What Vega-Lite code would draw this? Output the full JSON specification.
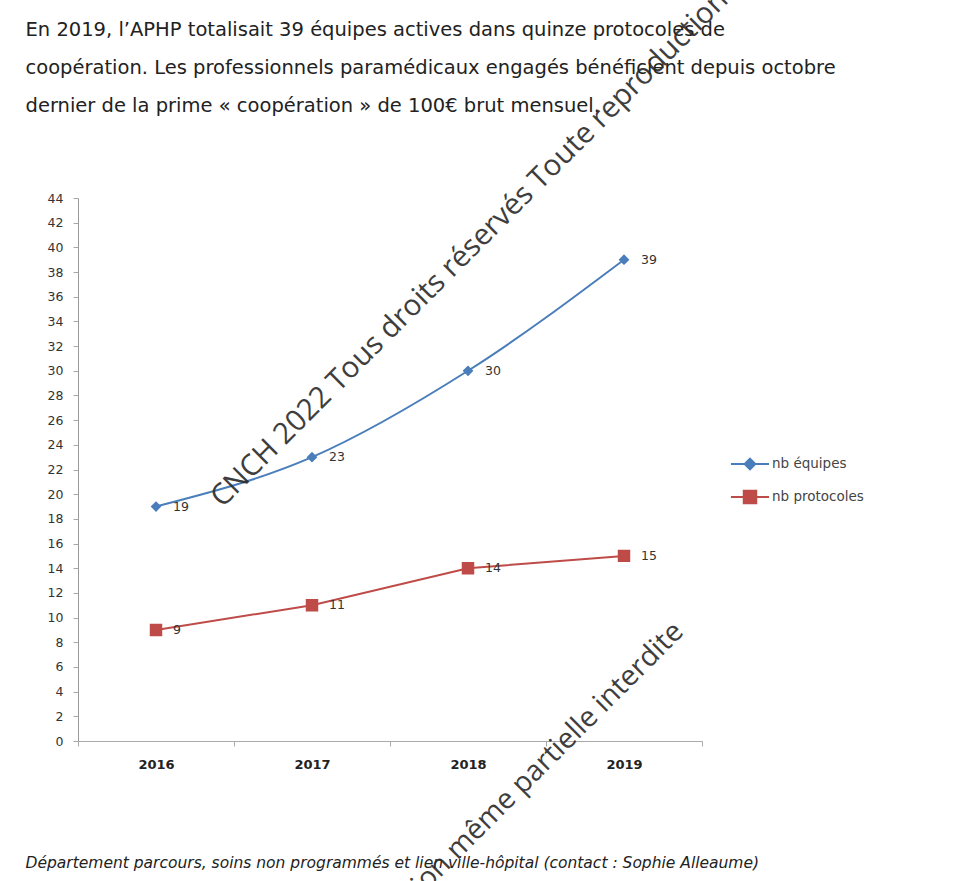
{
  "$schema": "https://vega.github.io/schema/vega-lite/v6.json",
  "width": 624,
  "height": 543,
  "autosize": {"type": "none"},
  "padding": {"left": 78, "top": 198, "right": 259, "bottom": 140},
  "background": "white",
  "data": {
    "values": [
      {"annee": "2016", "serie": "nb équipes", "valeur": 19},
      {"annee": "2017", "serie": "nb équipes", "valeur": 23},
      {"annee": "2018", "serie": "nb équipes", "valeur": 30},
      {"annee": "2019", "serie": "nb équipes", "valeur": 39},
      {"annee": "2016", "serie": "nb protocoles", "valeur": 9},
      {"annee": "2017", "serie": "nb protocoles", "valeur": 11},
      {"annee": "2018", "serie": "nb protocoles", "valeur": 14},
      {"annee": "2019", "serie": "nb protocoles", "valeur": 15}
    ]
  },
  "encoding": {
    "x": {
      "field": "annee",
      "type": "ordinal",
      "bandPosition": 0.5,
      "scale": {"type": "band", "paddingInner": 0, "paddingOuter": 0},
      "axis": {
        "labelAngle": 0,
        "labelFont": "DejaVu Sans",
        "labelFontSize": 13,
        "labelFontWeight": "bold",
        "labelColor": "#222222",
        "labelPadding": 12,
        "tickBand": "extent",
        "tickSize": 5,
        "tickColor": "#aaaaaa",
        "domainColor": "#aaaaaa",
        "grid": false,
        "title": "Département parcours, soins non programmés et lien ville-hôpital (contact : Sophie Alleaume)",
        "titleFont": "DejaVu Sans",
        "titleFontStyle": "italic",
        "titleFontWeight": "normal",
        "titleFontSize": 15.5,
        "titleColor": "#222222",
        "titleAnchor": "start",
        "titleAlign": "left",
        "titleBaseline": "middle",
        "titleX": -53,
        "titleY": 121
      }
    },
    "y": {
      "field": "valeur",
      "type": "quantitative",
      "scale": {"domain": [0, 44], "nice": false},
      "axis": {
        "values": [0, 2, 4, 6, 8, 10, 12, 14, 16, 18, 20, 22, 24, 26, 28, 30, 32, 34, 36, 38, 40, 42, 44],
        "labelFont": "DejaVu Sans",
        "labelFontSize": 12.5,
        "labelColor": "#333333",
        "labelPadding": 10,
        "tickSize": 5,
        "tickColor": "#aaaaaa",
        "domainColor": "#999999",
        "grid": false,
        "title": [
          "En 2019, l’APHP totalisait 39 équipes actives dans quinze protocoles de",
          "coopération. Les professionnels paramédicaux engagés bénéficient depuis octobre",
          "dernier de la prime « coopération » de 100€ brut mensuel."
        ],
        "titleAngle": 0,
        "titleAnchor": "start",
        "titleAlign": "left",
        "titleBaseline": "top",
        "titleX": -53,
        "titleY": -178,
        "titleFont": "DejaVu Sans",
        "titleFontSize": 19.5,
        "titleFontWeight": "normal",
        "titleColor": "#222222",
        "titleLineHeight": 38
      }
    }
  },
  "layer": [
    {
      "transform": [{"filter": "datum.serie === 'nb équipes'"}],
      "mark": {"type": "line", "strokeWidth": 2, "interpolate": "monotone"},
      "encoding": {
        "color": {"field": "serie", "type": "nominal", "scale": {"domain": ["nb équipes", "nb protocoles"], "range": ["#4A7EBB", "#BE4B48"]}}
      }
    },
    {
      "transform": [{"filter": "datum.serie === 'nb protocoles'"}],
      "mark": {"type": "line", "strokeWidth": 2},
      "encoding": {
        "color": {"field": "serie", "type": "nominal", "scale": {"domain": ["nb équipes", "nb protocoles"], "range": ["#4A7EBB", "#BE4B48"]}}
      }
    },
    {
      "mark": {"type": "point", "filled": true, "opacity": 1, "size": 300, "strokeWidth": 0},
      "encoding": {
        "color": {
          "field": "serie",
          "type": "nominal",
          "scale": {"domain": ["nb équipes", "nb protocoles"], "range": ["#4A7EBB", "#BE4B48"]},
          "legend": {
            "orient": "none",
            "legendX": 662,
            "legendY": 256,
            "title": null,
            "symbolSize": 300,
            "symbolStrokeWidth": 2,
            "labelOffset": 12,
            "labelFont": "DejaVu Sans",
            "labelFontSize": 13.5,
            "labelColor": "#444444",
            "rowPadding": 12,
            "encode": {"symbols": {"update": {"stroke": {"scale": "color", "field": "value"}, "strokeWidth": {"value": 2}}}}
          }
        },
        "shape": {
          "field": "serie",
          "type": "nominal",
          "scale": {
            "domain": ["nb équipes", "nb protocoles"],
            "range": ["M-2.2,0H2.2M0,-0.62L0.62,0L0,0.62L-0.62,0Z", "M-2.2,0H2.2M-0.72,-0.72H0.72V0.72H-0.72Z"]
          },
          "legend": {
            "orient": "none",
            "legendX": 662,
            "legendY": 256,
            "title": null,
            "symbolSize": 300,
            "symbolStrokeWidth": 2,
            "labelOffset": 12,
            "labelFont": "DejaVu Sans",
            "labelFontSize": 13.5,
            "labelColor": "#444444",
            "rowPadding": 12,
            "encode": {"symbols": {"update": {"stroke": {"scale": "color", "field": "value"}, "strokeWidth": {"value": 2}}}}
          }
        }
      }
    },
    {
      "mark": {"type": "text", "align": "left", "baseline": "middle", "dx": 17, "font": "DejaVu Sans", "fontSize": 12.5, "color": "#333333"},
      "encoding": {"text": {"field": "valeur", "type": "quantitative"}}
    },
    {
      "transform": [{"filter": "datum.annee === '2016' && datum.serie === 'nb équipes'"}],
      "mark": {"type": "text", "align": "left", "baseline": "alphabetic", "angle": 315, "dx": 94, "font": "Open Sans", "fontSize": 29.5, "color": "#2a2a2a", "opacity": 0.9},
      "encoding": {
        "x": {"datum": "2016"},
        "y": {"datum": 13.45},
        "text": {"value": "CNCH 2022 Tous droits réservés Toute reproduction"}
      }
    },
    {
      "transform": [{"filter": "datum.annee === '2019' && datum.serie === 'nb équipes'"}],
      "mark": {"type": "text", "align": "right", "baseline": "alphabetic", "angle": 315, "dx": 86, "font": "Open Sans", "fontSize": 28.5, "color": "#2a2a2a", "opacity": 0.9},
      "encoding": {
        "x": {"datum": "2019"},
        "y": {"datum": 3.8},
        "text": {"value": "CNCH 2022 Tous droits réservés Toute reproduction même partielle interdite"}
      }
    }
  ],
  "config": {"view": {"stroke": null}}
}
